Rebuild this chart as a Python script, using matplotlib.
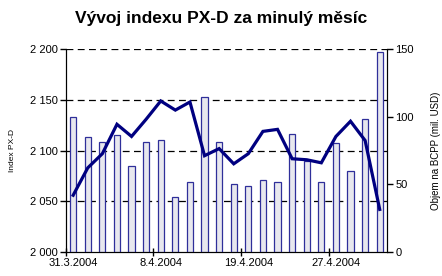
import matplotlib
matplotlib.use('Agg')
import matplotlib.pyplot as plt
from matplotlib.ticker import FuncFormatter

plt.rcParams['font.family'] = ['Liberation Sans', 'DejaVu Sans']

# trading days 31.3.2004 - 30.4.2004
dates = ['31.3.2004', '1.4.2004', '2.4.2004', '5.4.2004', '6.4.2004', '7.4.2004',
         '8.4.2004', '9.4.2004', '13.4.2004', '14.4.2004', '15.4.2004', '16.4.2004',
         '19.4.2004', '20.4.2004', '21.4.2004', '22.4.2004', '23.4.2004', '26.4.2004',
         '27.4.2004', '28.4.2004', '29.4.2004', '30.4.2004']
index_pxd = [2056, 2083, 2097, 2126, 2114, 2131, 2149, 2140, 2148, 2095, 2102,
             2087, 2097, 2119, 2121, 2092, 2091, 2088, 2114, 2129, 2110, 2042]
volume = [99.7, 84.9, 81.2, 86.3, 63.4, 81.2, 82.9, 40.5, 51.6, 114.5, 81.2,
          50.3, 48.8, 53.0, 51.6, 87.1, 67.6, 51.6, 80.4, 59.7, 98.2, 147.8]
label_every = 6

x = list(range(len(dates)))

fig = plt.figure(figsize=(4.42, 2.76), dpi=100)
ax = fig.add_axes([0.149, 0.087, 0.7266, 0.7344])
ax2 = ax.twinx()
ax3 = ax.twinx()

# grid + left axis
ax.set_ylim(2000, 2200)
ax.set_yticks([2000, 2050, 2100, 2150, 2200])
ax.yaxis.set_major_formatter(FuncFormatter(lambda v, p: '{:,.0f}'.format(v).replace(',', ' ')))
for v in [2050, 2100, 2150, 2200]:
    ax.axhline(v, color='black', lw=0.9, ls=(0, (5.5, 3.5)), zorder=0)
ax.set_xlim(-0.5, len(dates) - 0.5)
ax.set_xticks([i - 0.5 for i in x[::label_every]])
ax.set_xticklabels([])
ax.set_xticks(x[::label_every], minor=True)
ax.set_xticklabels(dates[::label_every], minor=True, fontsize=8)
ax.tick_params(axis='x', which='major', direction='inout', length=6, width=1)
ax.tick_params(axis='x', which='minor', length=0, pad=4)
ax.tick_params(axis='y', direction='out', length=4, width=1, labelsize=8, pad=2)
ax.set_ylabel('Index PX-D', fontsize=6, labelpad=10)
ax.spines['top'].set_visible(False)

# bars on right axis
ax2.bar(x, volume, width=0.42, facecolor='#e8e8ee', edgecolor='#2f2f9a', linewidth=0.9)
ax2.set_ylim(0, 150)
ax2.set_yticks([0, 50, 100, 150])
ax2.tick_params(axis='y', direction='out', length=4, width=1, labelsize=8, pad=2)
ax2.set_ylabel('Objem na BCPP (mil. USD)', fontsize=7, labelpad=12)
ax2.spines['top'].set_visible(False)

# line on top
ax3.plot(x, index_pxd, color='#000080', lw=2.3, solid_joinstyle='miter')
ax3.set_ylim(ax.get_ylim())
ax3.axis('off')

fig.suptitle('Vývoj indexu PX-D za minulý měsíc', fontsize=12.5, fontweight='bold', y=0.96)

fig.savefig('out.png', dpi=100)
